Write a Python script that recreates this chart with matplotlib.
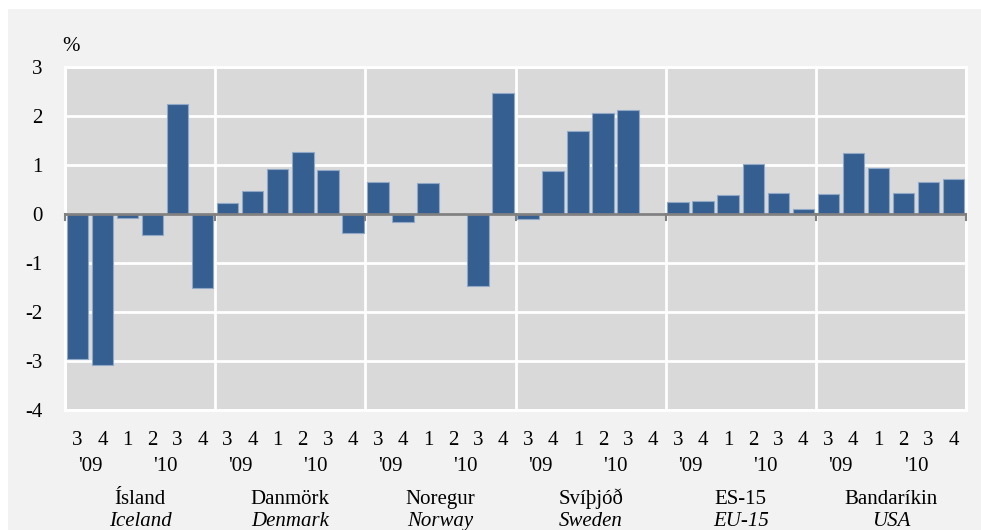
import matplotlib
matplotlib.use('agg')
import matplotlib.pyplot as plt
import matplotlib.transforms as mtrans
from matplotlib.patches import Rectangle
import numpy as np

plt.rcParams['font.family'] = ['Liberation Serif', 'DejaVu Serif']

countries_is = ['Ísland', 'Danmörk', 'Noregur', 'Svíþjóð', 'ES-15', 'Bandaríkin']
countries_en = ['Iceland', 'Denmark', 'Norway', 'Sweden', 'EU-15', 'USA']
quarters = ['3', '4', '1', '2', '3', '4']
years = ["'09", "'10"]

iceland = [-2.97, -3.08, -0.09, -0.43, 2.23, -1.51]
denmark = [0.22, 0.47, 0.92, 1.27, 0.90, -0.40]
norway = [0.65, -0.17, 0.62, 0.0, -1.47, 2.46]
sweden = [-0.11, 0.87, 1.68, 2.05, 2.11, np.nan]
eu15 = [0.24, 0.26, 0.39, 1.02, 0.43, 0.09]
usa = [0.40, 1.24, 0.93, 0.43, 0.64, 0.70]

series = [iceland, denmark, norway, sweden, eu15, usa]

W, H = 981, 530
FS = 15
fig = plt.figure(figsize=(W / 100, H / 100), dpi=100)
fig.patch.set_facecolor('white')
fig.patches.append(Rectangle((8 / W, 0), 1 - 8 / W, 1 - 9 / H, transform=fig.transFigure,
                             facecolor='#F2F2F2', edgecolor='none', zorder=-10))

ax = fig.add_axes([65 / W, 1 - 410 / H, (966 - 65) / W, (410 - 66.7) / H])
ax.set_facecolor('#D9D9D9')

n = len(quarters)
values = np.concatenate([np.array(s, dtype=float) for s in series])
x = np.arange(len(values))
ax.bar(x, np.nan_to_num(values), width=0.86, color='#365F91', edgecolor='#8FA8C8',
       linewidth=0.8, zorder=3)

ax.set_xlim(-0.5, len(values) - 0.5)
ax.set_ylim(-4, 3)
ax.set_yticks(range(-4, 4))
ax.set_yticklabels([str(v) for v in range(-4, 4)], fontsize=FS)
ax.tick_params(axis='y', length=0, pad=16)
ax.set_xticks([])

for y in range(-4, 4):
    ax.axhline(y, color='white', lw=2, zorder=1)
for g in range(len(series) + 1):
    ax.axvline(g * n - 0.5, color='white', lw=2, zorder=1)
for sp in ax.spines.values():
    sp.set_color('white')
    sp.set_linewidth(2)

ax.axhline(0, color='#808080', lw=2, zorder=4)
for g in range(len(series) + 1):
    ax.plot([g * n - 0.5, g * n - 0.5], [0, -0.12], color='#808080', lw=1.5,
            zorder=4, clip_on=False)

trans = mtrans.blended_transform_factory(ax.transData, fig.transFigure)
for g in range(len(series)):
    for i, q in enumerate(quarters):
        ax.text(g * n + i, 1 - 445 / H, q, transform=trans, ha='center',
                va='baseline', fontsize=FS)
    ax.text(g * n + 0.5, 1 - 471 / H, years[0], transform=trans, ha='center',
            va='baseline', fontsize=FS)
    ax.text(g * n + 3.5, 1 - 471 / H, years[1], transform=trans, ha='center',
            va='baseline', fontsize=FS)
    ax.text(g * n + 2.5, 1 - 504 / H, countries_is[g], transform=trans, ha='center',
            va='baseline', fontsize=FS)
    ax.text(g * n + 2.5, 1 - 526 / H, countries_en[g], transform=trans, ha='center',
            va='baseline', fontsize=FS, style='italic')

fig.text(62 / W, 1 - 51 / H, '%', fontsize=FS, ha='left', va='baseline')

fig.savefig('out.png', dpi=100, facecolor=fig.get_facecolor())
